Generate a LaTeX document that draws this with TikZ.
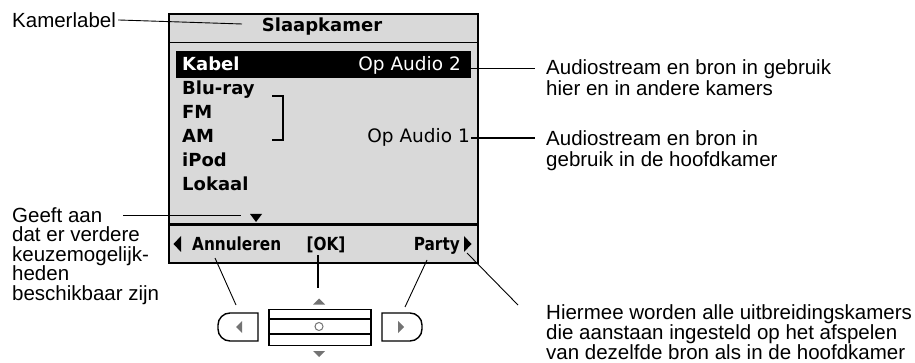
\documentclass[tikz,border=0pt]{standalone}
\usepackage{fontspec}
\setmainfont{Liberation Sans}
\newfontfamily\scrfont{DejaVu Sans}
\newfontfamily\scrcond[FakeStretch=0.85]{DejaVu Sans}
\definecolor{scrgray}{RGB}{217,217,217}
\definecolor{btngray}{RGB}{115,115,115}
\newcommand\annfont{\fontsize{20.5}{20.5}\selectfont}
\newcommand\annlines[2]{\vtop{\annfont\baselineskip=#1pt #2}}
\begin{document}
\begin{tikzpicture}[x=1pt,y=-1pt,
  ann/.style={anchor=base west, inner sep=0pt, font=\annfont},
  row/.style={anchor=base west, inner sep=0pt, font=\scrfont\bfseries\fontsize{18}{20}\selectfont},
  rowr/.style={anchor=base east, inner sep=0pt, font=\scrfont\fontsize{18.5}{20}\selectfont},
  soft/.style={inner sep=0pt, font=\scrcond\bfseries\fontsize{18}{20}\selectfont},
  conn/.style={draw=black, line width=0.9pt},
  btn/.style={draw=black, line width=1.4pt}]
\useasboundingbox (0,0) rectangle (915,363);
% screen
\node[draw, fill=scrgray, line width=2pt, minimum width=309pt, minimum height=249pt,
      anchor=north west, inner sep=0pt] (screen) at (168,13) {};
\draw[line width=1.5pt] (168,42.5) -- (477,42.5);
\draw[line width=3pt] (168,225) -- (477,225);
\node[fill=black, anchor=north west, inner sep=0pt, minimum width=295pt, minimum height=27pt] (hl) at (176,51) {};
\node[row, anchor=base] (title) at (322,31.5) {Slaapkamer};
\node[row, text=white] (kabel) at (182,71) {Kabel};
\node[rowr, text=white] (op2) at (461,71) {Op Audio 2};
\node[row] (bluray) at (182,95) {Blu-ray};
\node[row] (fm) at (182,119) {FM};
\node[row] (am) at (182,143) {AM};
\node[row] (ipod) at (182,167) {iPod};
\node[row] (lokaal) at (182,191) {Lokaal};
\node[rowr] (op1) at (470,143) {Op Audio 1};
\draw[line width=1.3pt] (272,96) -- (283,96) -- (283,140) -- (272,140);
\fill (250,214) -- (262,214) -- (256,222) -- cycle;
% softkey row
\fill (173.5,244) -- (181,236) -- (181,252) -- cycle;
\node[soft, anchor=base west] (annul) at (192,250.5) {Annuleren};
\node[soft, anchor=base] (ok) at (326,250.5) {[OK]};
\node[soft, anchor=base east] (partyk) at (460,250.5) {Party};
\fill (471.5,244) -- (464,236) -- (464,252) -- cycle;
% buttons
\draw[btn] (258,313) [rounded corners=12pt] -- (218,313) -- (218,341) [sharp corners] -- (258,341) -- cycle;
\draw[btn] (382,313) [rounded corners=12pt] -- (422,313) -- (422,341) [sharp corners] -- (382,341) -- cycle;
\node[btn, line width=1.7pt, minimum width=102pt, minimum height=36pt, anchor=north west, inner sep=0pt] (mid) at (268,308.5) {};
\draw[line width=1.3pt] (268,319) -- (370,319);
\draw[line width=1.3pt] (268,334) -- (370,334);
\draw[btngray, line width=1pt] (319,326.5) circle (4pt);
\fill[btngray] (313,304.5) -- (325,304.5) -- (319,298.5) -- cycle;
\fill[btngray] (313,351) -- (325,351) -- (319,357) -- cycle;
\fill[btngray] (236,327) -- (242,321) -- (242,333) -- cycle;
\fill[btngray] (404,327) -- (398,321) -- (398,333) -- cycle;
% annotations
\node[ann] (kamer) at (12,27.3) {Kamerlabel};
\node[ann] (a1) at (546,74.3) {\annlines{21}{\hbox{Audiostream en bron in gebruik}\hbox{hier en in andere kamers}}};
\node[ann] (a2) at (546,146) {\annlines{21}{\hbox{Audiostream en bron in}\hbox{gebruik in de hoofdkamer}}};
\node[ann] (hier) at (546,319) {\annlines{20}{\hbox{Hiermee worden alle uitbreidingskamers}\hbox{die aanstaan ingesteld op het afspelen}\hbox{van dezelfde bron als in de hoofdkamer}}};
\node[ann] (geeft) at (12,222.3) {\annlines{19.5}{\hbox{Geeft aan}\hbox{dat er verdere}\hbox{keuzemogelijk-}\hbox{heden}\hbox{beschikbaar zijn}}};
% connectors
\coordinate (kamerEnd) at (242,24);
\coordinate (a1End) at (535,68);
\coordinate (a2End) at (535,138);
\coordinate (geeftEnd) at (241,215);
\coordinate (hierEnd) at (518,305);
\draw[conn] ([xshift=2pt]kamer.east) -- (kamerEnd);
\draw[conn] (hl.east |- a1End) -- (a1End);
\draw[conn, line width=1.2pt] ([xshift=1pt]op1.east |- a2End) -- (a2End);
\draw[conn] (123,215) -- (geeftEnd);
\draw[conn] (215,258) -- (236,305);
\draw[conn, line width=2pt] (318,255) -- (318,288);
\draw[conn] (427,260) -- (405,307);
\draw[conn] (467,253) -- (hierEnd);
\end{tikzpicture}
\end{document}
